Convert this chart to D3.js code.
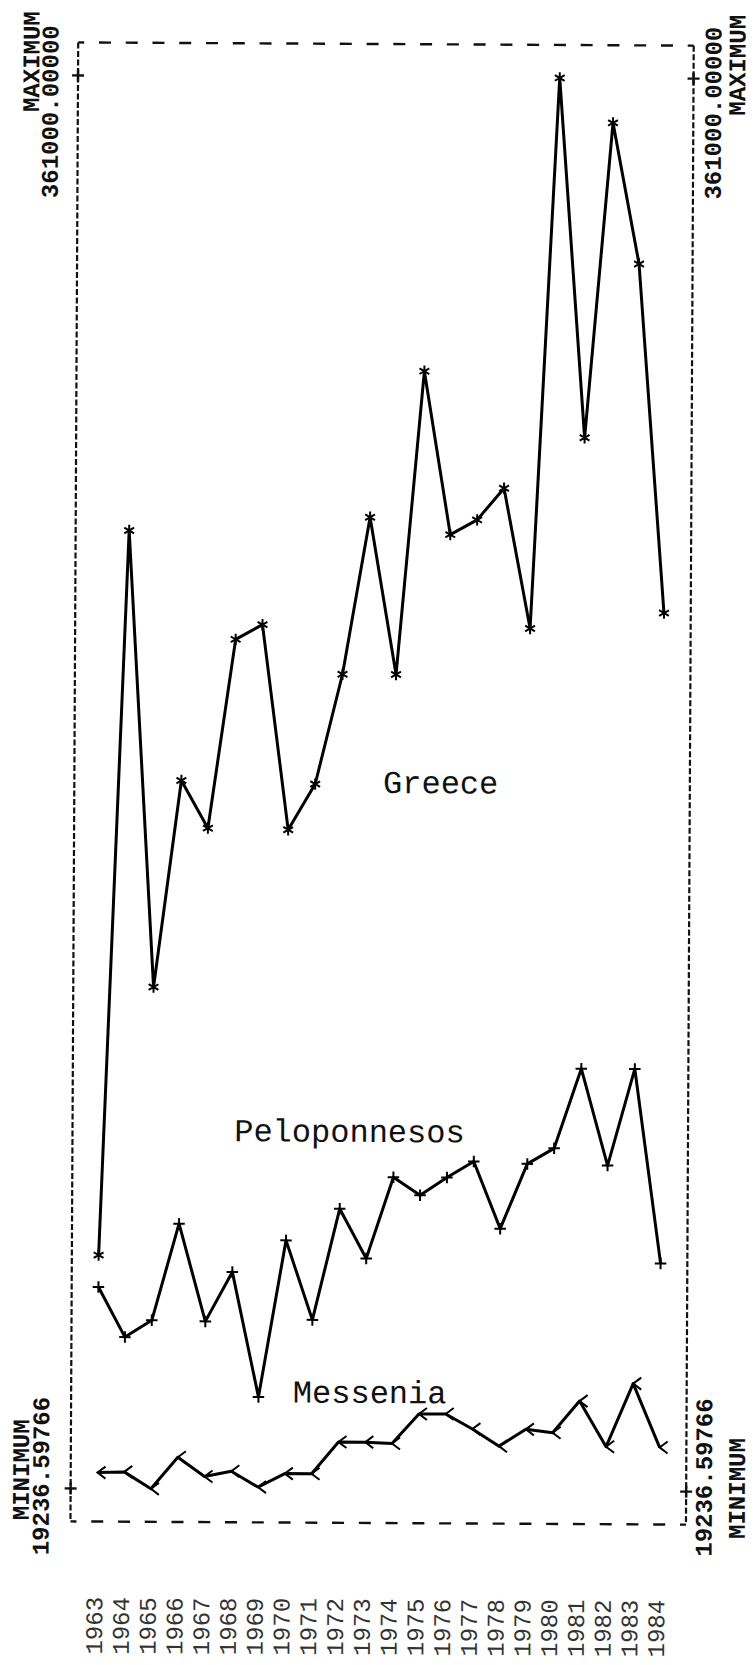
<!DOCTYPE html>
<html>
<head>
<meta charset="utf-8">
<script src="https://cdn.jsdelivr.net/npm/d3@7"></script>
<style>
  html, body { margin: 0; padding: 0; background: #fff; }
  svg { display: block; }
</style>
</head>
<body>
<div id="chart"></div>
<script>
// ---- data ----
const years = [1963,1964,1965,1966,1967,1968,1969,1970,1971,1972,1973,1974,1975,1976,1977,1978,1979,1980,1981,1982,1983,1984];
const yearLabels = years.map(String);
const greece = [75700,251000,140600,190600,179100,224800,228400,178800,189900,216500,254500,216500,289900,250400,254000,261700,227800,361000,274000,350200,316100,231700];
const peloponnesos = [68000,55900,60000,83400,59800,71800,41600,79500,60300,87200,75200,94900,90600,94900,98800,82600,98300,102100,121400,98000,121400,74400];
const messenia = [23100,23300,19236.59766,26900,22300,23600,19800,23100,23100,30800,30800,30500,37700,37700,34100,30000,34100,33300,41000,30000,45300,29900];
const seriesNames = ["Greece","Peloponnesos","Messenia"];
const yMin = 19236.59766, yMax = 361000;
const yTickLabels = ["19236.59766","361000.00000"];
const yTickNames = ["MINIMUM","MAXIMUM"];

(function () {
// ---- layout ----
const W = 756, H = 1665;
const svg = d3.select("#chart").append("svg").attr("width", W).attr("height", H);
svg.append("rect").attr("width", W).attr("height", H).attr("fill", "#fff");
const g = svg.append("g").attr("transform", "rotate(0.3,378,800)");

const x = d3.scaleLinear().domain([1963, 1984]).range([101, 663]);
const y = d3.scaleLinear().domain([yMin, yMax]).range([1490, 77]);
const step = x(1964) - x(1963);
const fLeft = x(1962), fRight = x(1985), fTop = 44, fBottom = 1523;
const mono = "'Liberation Mono', 'DejaVu Sans Mono', monospace";

// frame: horizontal dashes centred on year columns
[fTop, fBottom].forEach(yy => {
  g.append("line").attr("x1", fLeft).attr("x2", fRight).attr("y1", yy).attr("y2", yy)
    .attr("stroke", "#111").attr("stroke-width", 2.4)
    .attr("stroke-dasharray", `12,${step - 12}`).attr("stroke-dashoffset", 6);
});
// vertical fine dashed borders
[fLeft, fRight].forEach(xx => {
  g.append("line").attr("x1", xx).attr("x2", xx).attr("y1", fTop).attr("y2", fBottom)
    .attr("stroke", "#111").attr("stroke-width", 2.2)
    .attr("stroke-dasharray", "6,2.5");
  [yMin, yMax].forEach(v => {
    g.append("line").attr("x1", xx - 6).attr("x2", xx + 6).attr("y1", y(v)).attr("y2", y(v))
      .attr("stroke", "#111").attr("stroke-width", 2.4);
    g.append("line").attr("x1", xx).attr("x2", xx).attr("y1", y(v) - 6).attr("y2", y(v) + 6)
      .attr("stroke", "#111").attr("stroke-width", 2.4);
  });
});

// rotated min/max labels
function vlabel(txt, cx, yy, anchor) {
  g.append("text").attr("transform", `translate(${cx},${yy}) rotate(-90)`)
    .attr("text-anchor", anchor).attr("dominant-baseline", "central")
    .attr("font-family", mono).attr("font-size", 24).attr("font-weight", "bold")
    .attr("fill", "#111")
    .text(txt);
}
vlabel(yTickNames[1], 29, 13, "end");
vlabel(yTickLabels[1], 48, 27, "end");
vlabel(yTickNames[0], 26, 1522, "start");
vlabel(yTickLabels[0], 46, 1557, "start");
vlabel(yTickLabels[1], 711, 25, "end");
vlabel(yTickNames[1], 735, 13, "end");
vlabel(yTickLabels[0], 709, 1555, "start");
vlabel(yTickNames[0], 742, 1537, "start");

// year labels
g.selectAll("text.year").data(years).enter().append("text").attr("class", "year")
  .attr("transform", d => `translate(${x(d) - 1},1656) rotate(-90)`)
  .attr("text-anchor", "start").attr("dominant-baseline", "central")
  .attr("font-family", mono).attr("font-size", 24).attr("fill", "#333")
  .text((d, i) => yearLabels[i]);

// series lines
const line = d3.line().x(d => x(d[0])).y(d => y(d[1]));
const data = [greece, peloponnesos, messenia].map(arr => years.map((yr, i) => [yr, arr[i]]));
data.forEach(pts => {
  g.append("path").attr("d", line(pts)).attr("fill", "none")
    .attr("stroke", "#000").attr("stroke-width", 3).attr("stroke-linejoin", "round");
});

// markers
const ast = d3.symbol().type(d3.symbolAsterisk).size(90)();
const plus = d3.symbol().type(d3.symbolPlus).size(45)();
const lt = "M8,-6L0,0L8,6";
[[data[0], ast], [data[1], plus], [data[2], lt]].forEach(([pts, p]) => {
  g.selectAll(null).data(pts).enter().append("path")
    .attr("transform", d => `translate(${x(d[0])},${y(d[1])})`)
    .attr("d", p).attr("fill", "none").attr("stroke", "#000").attr("stroke-width", 2);
});

// series labels
const labelPos = [[383, 793], [236, 1142], [296, 1403]];
seriesNames.forEach((n, i) => {
  g.append("text").attr("x", labelPos[i][0]).attr("y", labelPos[i][1])
    .attr("font-family", mono).attr("font-size", 32).attr("fill", "#111").text(n);
});
})();
</script>
</body>
</html>
